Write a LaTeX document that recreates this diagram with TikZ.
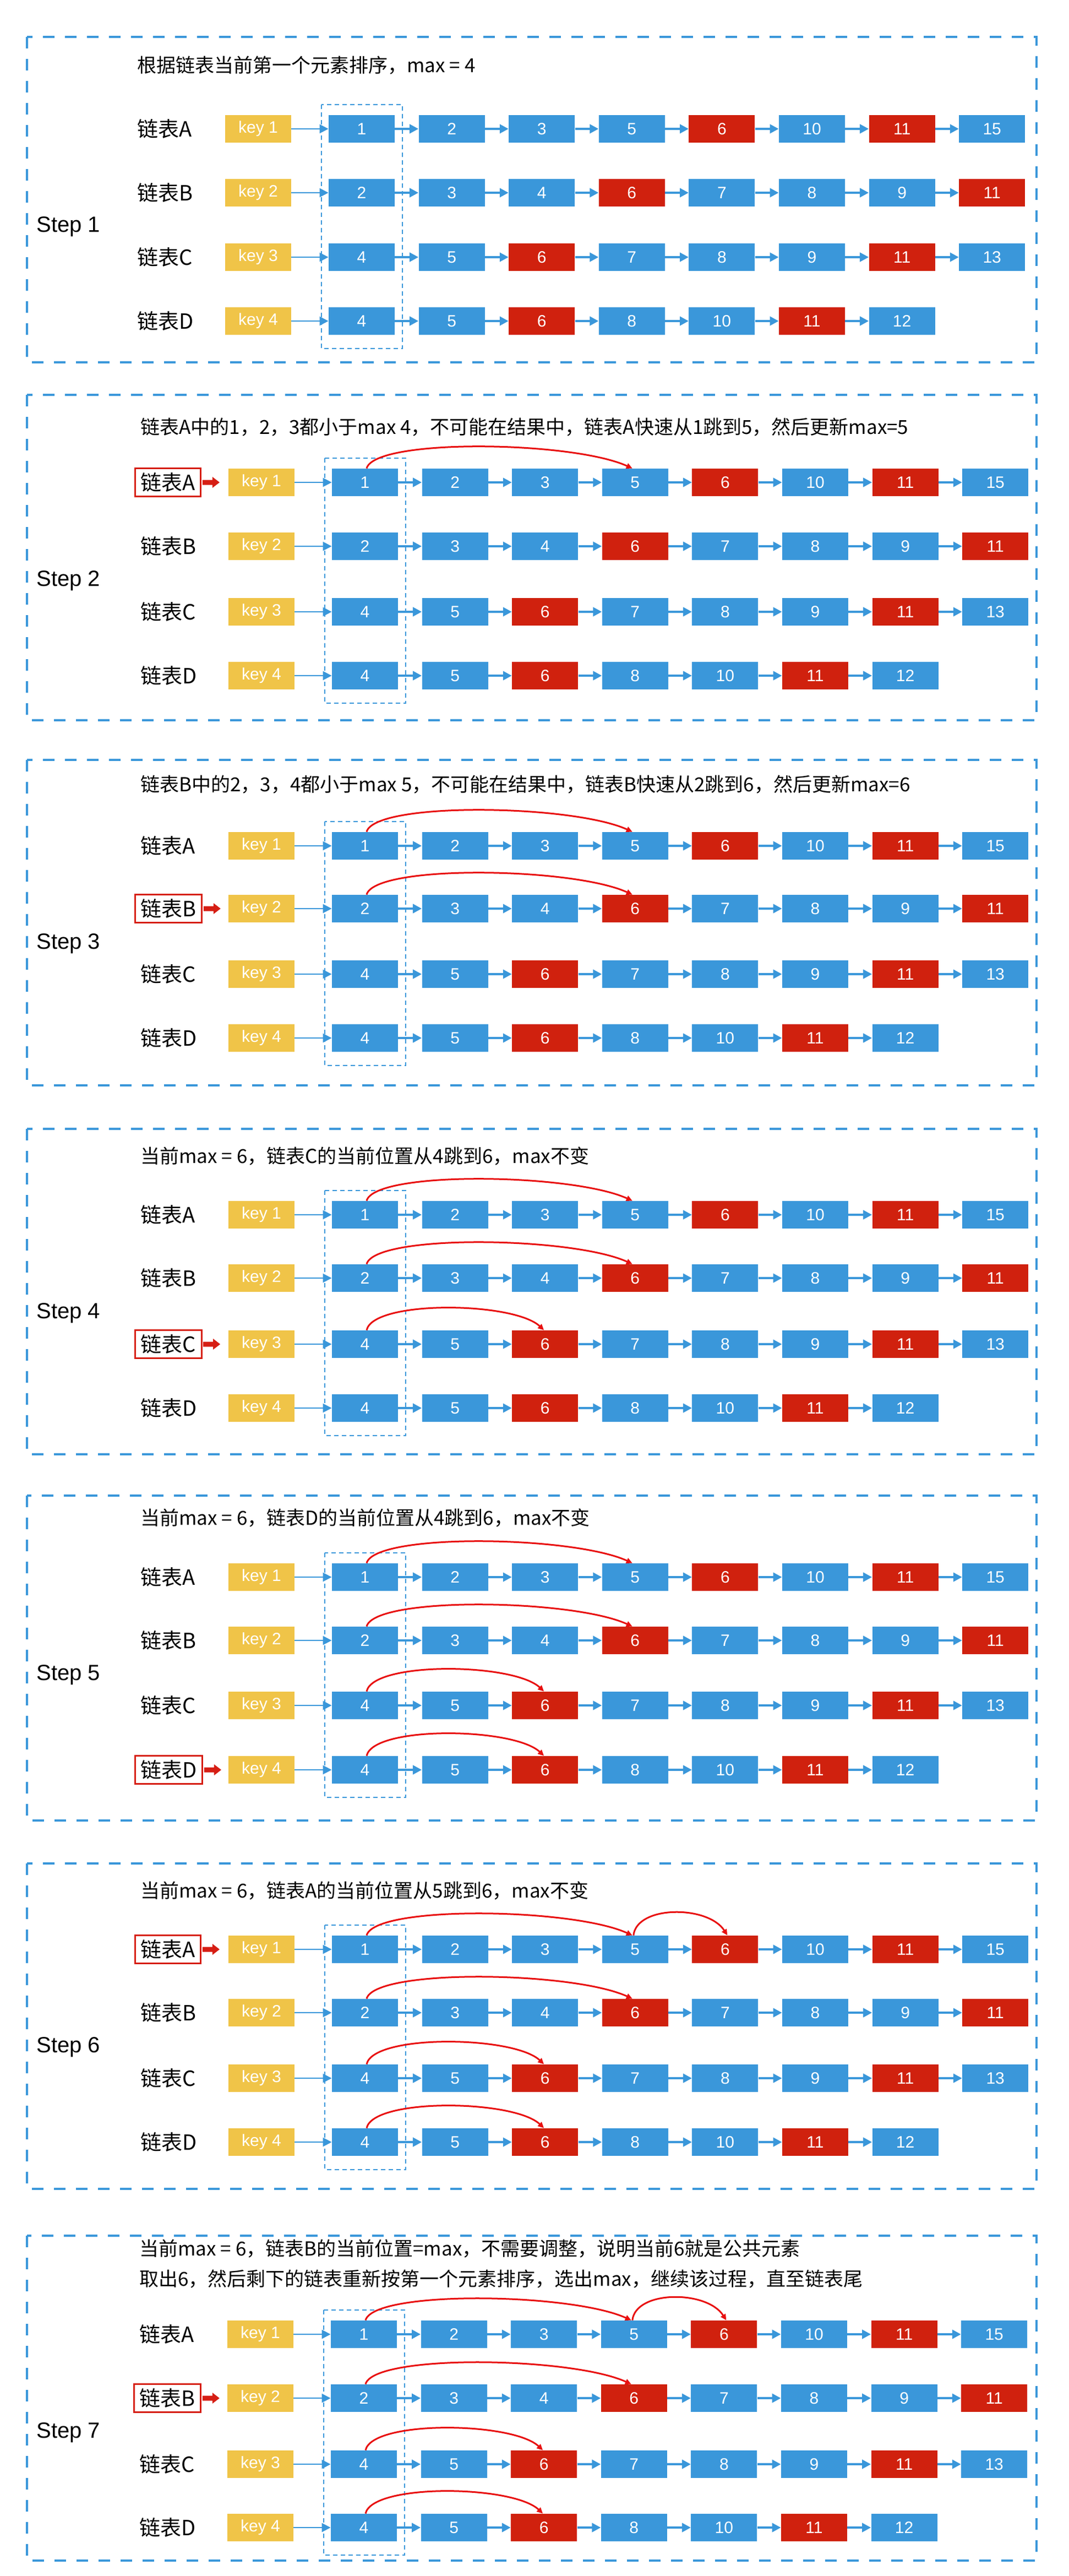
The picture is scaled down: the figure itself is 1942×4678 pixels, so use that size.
\documentclass[tikz,border=0pt]{standalone}
\usepackage{fontspec}
\setmainfont{Liberation Sans}
\newfontfamily\cjk{Noto Sans CJK SC}
\usetikzlibrary{arrows.meta,calc}
\definecolor{cb}{RGB}{58,151,218}
\definecolor{cr}{RGB}{208,33,14}
\definecolor{ky}{RGB}{240,196,72}
\definecolor{arcred}{RGB}{232,16,16}
\definecolor{hired}{RGB}{214,30,20}
\tikzset{
  bx/.style={fill=cb, minimum width=60pt, minimum height=25pt, inner sep=0pt, text=white, font=\fontsize{15}{15}\selectfont},
  keybox/.style={bx, fill=ky},
  lnk/.style={draw=cb, line width=2pt, -{Triangle[length=8pt,width=8pt]}},
  keylnk/.style={draw=cb, line width=1.3pt, -{Triangle[length=8pt,width=8pt]}},
  frm/.style={draw=cb, line width=2pt, dash pattern=on 10.5pt off 9.5pt},
  colbox/.style={draw=cb, line width=1.3pt, dash pattern=on 4pt off 3pt},
  lbl/.style={font=\cjk\fontsize{19}{19}\selectfont, inner xsep=5pt, inner ysep=0pt, minimum height=25pt, anchor=west},
  hi/.style={draw=hired, line width=1.5pt},
  jump/.style={draw=arcred, line width=1.5pt, -{Triangle[length=5.5pt,width=5pt]}},
  steplbl/.style={font=\fontsize{20}{20}\selectfont, anchor=west, inner sep=0pt},
  ttl/.style={font=\cjk\fontsize{17.5}{17.5}\selectfont, anchor=west, inner sep=0pt},
}
\newcommand\mkrow[6]{%
  \node[lbl] (s#1#2l) at ({#4-358},#3) {链表#2};
  \node[keybox] (s#1#2k) at ({#4-128},#3) {key #5};
  \foreach \v/\c [count=\i from 0] in {#6} {%
    \node[bx, fill=\c] (s#1#2\i) at ({#4+60+163.6*\i},#3) {\v};
    \ifnum\i>0 \pgfmathtruncatemacro\j{\i-1}\draw[lnk] (s#1#2\j) -- (s#1#2\i);\fi
  }
  \draw[keylnk] (s#1#2k) -- (s#1#20);
}
\newcommand\mkstep[8]{%
  \draw[frm] (49,#2) rectangle (1883,#3);
  \node[steplbl] (s#1step) at (66,{(#5+#8)/2+3}) {Step #1};
  \mkrow{#1}{A}{#5}{#4}{1}{1/cb,2/cb,3/cb,5/cb,6/cr,10/cb,11/cr,15/cb}
  \mkrow{#1}{B}{#6}{#4}{2}{2/cb,3/cb,4/cb,6/cr,7/cb,8/cb,9/cb,11/cr}
  \mkrow{#1}{C}{#7}{#4}{3}{4/cb,5/cb,6/cr,7/cb,8/cb,9/cb,11/cr,13/cb}
  \mkrow{#1}{D}{#8}{#4}{4}{4/cb,5/cb,6/cr,8/cb,10/cb,11/cr,12/cb}
  \draw[colbox] ({#4-13},{#5-44}) rectangle ({#4+134},{#8+50});
}
\newcommand\hilite[1]{%
  \draw[hi] (#1.south west) rectangle (#1.north east);
  \fill[hired] ($(#1.east)+(3,-4.5)$) -- ++(18,0) -- ++(0,-5.5) -- ++(13,10) -- ++(-13,10) -- ++(0,-5.5) -- ++(-18,0) -- cycle;
}
\newcommand\ljump[2]{\draw[jump] ($(#1.north)+(3,0)$) .. controls +(15,-55) and +(-110,-50) .. ($(#2.north)+(-5,0)$);}
\newcommand\mjump[2]{\draw[jump] ($(#1.north)+(3,0)$) .. controls +(12,-55) and +(-55,-52) .. ($(#2.north)+(-2,0)$);}
\newcommand\sjump[2]{\draw[jump] ($(#1.north)+(-3,0)$) .. controls +(6,-55) and +(-35,-55) .. ($(#2.north)+(4,0)$);}
\begin{document}
\begin{tikzpicture}[x=0.5pt,y=-0.5pt]
\useasboundingbox (0,0) rectangle (1942,4678);
\fill[white] (0,0) rectangle (1942,4678);
% Step 1
\mkstep{1}{67}{658}{597}{234}{350}{467}{583}
\node[ttl] (t1) at (249,119) {根据链表当前第一个元素排序，max = 4};
% Step 2
\mkstep{2}{717}{1308}{603}{876}{992}{1111}{1227}
\node[ttl] (t2) at (255,776) {链表A中的1，2，3都小于max 4，不可能在结果中，链表A快速从1跳到5，然后更新max=5};
\hilite{s2Al}
\ljump{s2A0}{s2A3}
% Step 3
\mkstep{3}{1380}{1971}{603}{1536}{1650}{1769}{1885}
\node[ttl] (t3) at (255,1425) {链表B中的2，3，4都小于max 5，不可能在结果中，链表B快速从2跳到6，然后更新max=6};
\hilite{s3Bl}
\ljump{s3A0}{s3A3}
\ljump{s3B0}{s3B3}
% Step 4
\mkstep{4}{2050}{2641}{603}{2206}{2321}{2441}{2557}
\node[ttl] (t4) at (255,2099) {当前max = 6，链表C的当前位置从4跳到6，max不变};
\hilite{s4Cl}
\ljump{s4A0}{s4A3}
\ljump{s4B0}{s4B3}
\mjump{s4C0}{s4C2}
% Step 5
\mkstep{5}{2716}{3306}{603}{2864}{2979}{3097}{3214}
\node[ttl] (t5) at (255,2756) {当前max = 6，链表D的当前位置从4跳到6，max不变};
\hilite{s5Dl}
\ljump{s5A0}{s5A3}
\ljump{s5B0}{s5B3}
\mjump{s5C0}{s5C2}
\mjump{s5D0}{s5D2}
% Step 6
\mkstep{6}{3384}{3975}{603}{3540}{3655}{3774}{3890}
\node[ttl] (t6) at (255,3433) {当前max = 6，链表A的当前位置从5跳到6，max不变};
\hilite{s6Al}
\ljump{s6A0}{s6A3}
\sjump{s6A3}{s6A4}
\ljump{s6B0}{s6B3}
\mjump{s6C0}{s6C2}
\mjump{s6D0}{s6D2}
% Step 7
\mkstep{7}{4060}{4650}{601}{4239}{4355}{4475}{4590}
\node[ttl] (t7a) at (253,4083) {当前max = 6，链表B的当前位置=max，不需要调整，说明当前6就是公共元素};
\node[ttl] (t7b) at (253,4138) {取出6，然后剩下的链表重新按第一个元素排序，选出max，继续该过程，直至链表尾};
\hilite{s7Bl}
\ljump{s7A0}{s7A3}
\sjump{s7A3}{s7A4}
\ljump{s7B0}{s7B3}
\mjump{s7C0}{s7C2}
\mjump{s7D0}{s7D2}
\end{tikzpicture}
\end{document}
